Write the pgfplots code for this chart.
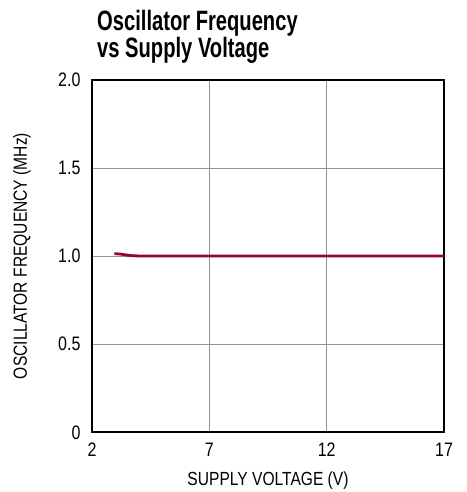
\documentclass[border=0pt]{standalone}
\usepackage{fontspec}
\setmainfont{Liberation Sans}[FakeStretch=0.82]
\newfontfamily\titlefont{Liberation Sans Bold}[FakeStretch=0.72]
\usepackage{pgfplots}
\pgfplotsset{compat=1.18}
\definecolor{curve}{RGB}{145,5,50}
\begin{document}
\begin{tikzpicture}[x=1pt,y=1pt]
\path[use as bounding box] (-92,-60) rectangle (374,432);
\begin{axis}[at={(0,0)},anchor=south west,
  scale only axis, width=352pt, height=352pt,
  xmin=2, xmax=17, ymin=0, ymax=2,
  xtick={2,7,12,17}, ytick={0,0.5,1,1.5,2},
  yticklabels={0,0.5,1.0,1.5,2.0},
  grid=major, major grid style={gray!85, line width=0.9pt},
  axis line style={black, line width=1.6pt},
  tick style={draw=none},
  /pgf/number format/assume math mode=true,
  xticklabel style={font=\fontsize{19.5}{22}\selectfont, anchor=base, yshift=-24pt},
  yticklabel style={font=\fontsize{19.5}{22}\selectfont, anchor=base east, xshift=-8pt, yshift=-7pt},
  xlabel={SUPPLY VOLTAGE (V)},
  ylabel={OSCILLATOR FREQUENCY (MHz)},
  xlabel style={font=\fontsize{19}{22}\selectfont, at={(axis description cs:0.5,-0.151)}, anchor=base},
  ylabel style={font=\fontsize{19}{22}\selectfont, at={(axis description cs:-0.185,0.5)}, anchor=base},
]
\addplot[curve, line width=2.8pt, smooth] coordinates {
(2.95,1.013) (3.2,1.011) (3.5,1.005) (3.8,1.001) (4.5,1.0) (6,1.0) (8,1.0) (10,1.0) (12,1.0) (14,1.0) (17,1.0)};
\end{axis}
\node[anchor=base west, inner sep=0pt, font=\fontsize{28}{30}\titlefont] at (5,401) {Oscillator Frequency};
\node[anchor=base west, inner sep=0pt, font=\fontsize{28}{30}\titlefont] at (5,374) {vs Supply Voltage};
\end{tikzpicture}
\end{document}
